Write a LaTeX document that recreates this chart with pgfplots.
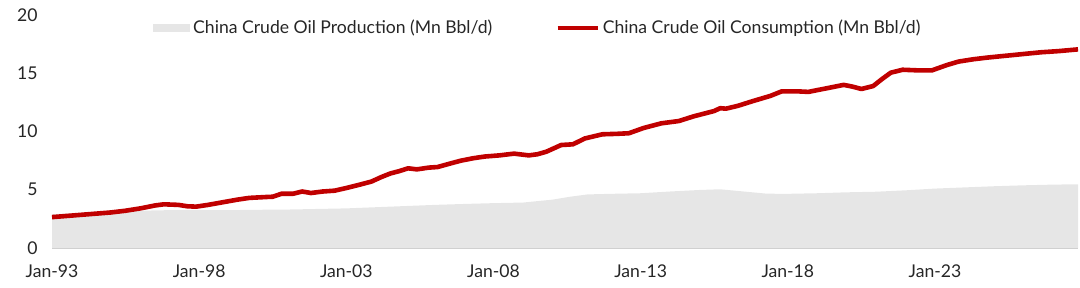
\documentclass[border=0pt]{standalone}
\usepackage{pgfplots}
\pgfplotsset{compat=1.18}
\usepackage{fontspec}
\setmainfont{Lato}
\definecolor{redline}{HTML}{C00000}
\definecolor{prodgray}{HTML}{E6E6E6}
\definecolor{axgray}{HTML}{D0D0D0}
\definecolor{txt}{HTML}{262626}
\begin{document}
\begin{tikzpicture}
\path[use as bounding box] (0,0) rectangle (540pt,144pt);
\begin{axis}[
  at={(26pt,20pt)}, anchor=south west,
  scale only axis, width=513pt, height=116.5pt,
  xmin=1993, xmax=2027.86, ymin=0, ymax=20,
  axis x line*=bottom, axis y line*=left,
  x axis line style={draw=axgray, line width=0.6pt},
  y axis line style={draw=none},
  major tick length=0pt,
  xtick={1993,1998,2003,2008,2013,2018,2023},
  xticklabels={Jan-93,Jan-98,Jan-03,Jan-08,Jan-13,Jan-18,Jan-23},
  ytick={0,5,10,15,20},
  font=\fontsize{8.8pt}{10.5pt}\selectfont,
  tick label style={text=txt},
  yticklabel style={anchor=east, inner sep=0pt, xshift=-7pt},
  xticklabel style={anchor=north, inner sep=0pt, yshift=-8pt},
  /pgf/number format/assume math mode=true,
  legend columns=2,
  legend style={draw=none, fill=none, at={(0.474,0.944)}, anchor=center,
     inner sep=0pt, nodes={inner sep=1.5pt, text=txt}, font=\fontsize{8.8pt}{10.5pt}\selectfont},
  /tikz/every even column/.append style={column sep=30pt},
  clip=false,
]
\addplot[fill=prodgray, draw=none,
  legend image code/.code={\fill[prodgray] (0pt,-2pt) rectangle (18.5pt,2pt);}]
 table {
x y
1993.0 2.9
1994.0 3.0
1995.0 3.1
1996.0 3.2
1997.0 3.25
1998.0 3.25
1999.0 3.25
2000.0 3.28
2001.0 3.3
2002.0 3.35
2003.0 3.4
2004.0 3.5
2005.0 3.6
2006.0 3.7
2007.0 3.78
2008.0 3.85
2009.0 3.9
2010.0 4.15
2010.6 4.4
2011.2 4.6
2012.0 4.65
2013.0 4.7
2014.0 4.85
2015.0 4.98
2015.7 5.04
2016.5 4.85
2017.3 4.66
2018.0 4.65
2019.0 4.7
2020.0 4.78
2021.0 4.83
2022.0 4.95
2023.0 5.1
2024.0 5.2
2025.0 5.3
2026.0 5.38
2027.0 5.44
2027.86 5.47
} \closedcycle;
\addlegendentry{China Crude Oil Production (Mn Bbl/d)}
\addplot[redline, line width=2.3pt, line join=round,
  legend image code/.code={\draw[redline, line width=2.3pt] (0pt,0pt) -- (20pt,0pt);}]
 table {
x y
1993.0 2.65
1993.5 2.75
1994.0 2.85
1994.5 2.95
1995.0 3.05
1995.5 3.2
1996.0 3.4
1996.5 3.65
1996.8 3.75
1997.3 3.7
1997.6 3.58
1997.9 3.55
1998.3 3.7
1998.9 3.97
1999.3 4.15
1999.7 4.3
2000.3 4.38
2000.5 4.4
2000.8 4.66
2001.2 4.66
2001.5 4.85
2001.8 4.72
2002.2 4.85
2002.6 4.92
2003.0 5.15
2003.4 5.4
2003.85 5.7
2004.2 6.1
2004.5 6.4
2004.8 6.6
2005.1 6.84
2005.4 6.75
2005.8 6.9
2006.1 6.95
2006.6 7.3
2006.9 7.5
2007.3 7.7
2007.7 7.85
2008.2 7.95
2008.7 8.1
2009.2 7.95
2009.5 8.05
2009.8 8.27
2010.3 8.84
2010.7 8.9
2011.1 9.4
2011.7 9.76
2012.2 9.8
2012.6 9.85
2013.1 10.3
2013.7 10.7
2014.3 10.9
2014.8 11.3
2015.5 11.76
2015.7 12.0
2015.9 11.96
2016.3 12.2
2016.8 12.6
2017.4 13.05
2017.8 13.45
2018.3 13.45
2018.7 13.4
2019.3 13.7
2019.9 14.0
2020.2 13.85
2020.5 13.65
2020.9 13.9
2021.2 14.5
2021.5 15.05
2021.9 15.3
2022.4 15.25
2022.9 15.25
2023.4 15.7
2023.8 16.0
2024.3 16.2
2024.8 16.35
2025.4 16.5
2026.0 16.65
2026.6 16.8
2027.2 16.9
2027.86 17.05
};
\addlegendentry{China Crude Oil Consumption (Mn Bbl/d)}
\end{axis}
\end{tikzpicture}
\end{document}
